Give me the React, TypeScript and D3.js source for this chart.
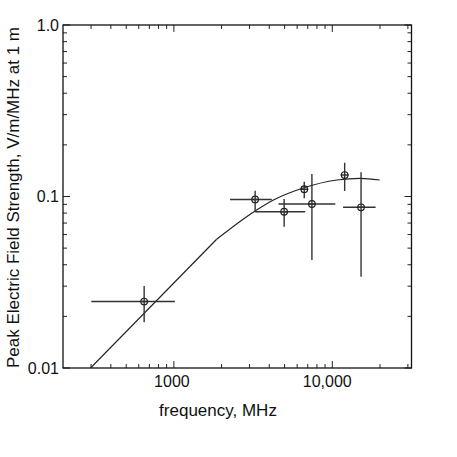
import React from "react";
import * as d3 from "d3";

// Measured points (frequency MHz, field V/m/MHz)
const freq = [649, 3258, 4966, 6653, 7436, 11970, 15190];
const field = [0.0244, 0.0961, 0.0815, 0.1102, 0.0904, 0.1334, 0.0865];
const freqLow = [301, 2261, 3258, 6653, 4571, 11970, 11690];
const freqHigh = [1015, 4150, 6745, 6653, 10450, 11970, 18770];
const fieldLow = [0.0185, 0.0815, 0.0667, 0.0976, 0.0426, 0.1077, 0.0341];
const fieldHigh = [0.0301, 0.1081, 0.0967, 0.122, 0.1352, 0.1574, 0.1383];

// Model curve: straight section then smooth rollover
const lineFreq = [298, 1862];
const lineField = [0.01, 0.0563];
const curveFreq = [1862, 3256, 4251, 6553, 10710, 15030, 19910];
const curveField = [0.0563, 0.0823, 0.0954, 0.1121, 0.1248, 0.1277, 0.1248];

const yTickValues = [0.01, 0.1, 1.0];
const yTickLabels = ["0.01", "0.1", "1.0"];
const xTickValues = [1000, 10000];
const xTickLabels = ["1000", "10,000"];

const W = 457;
const H = 457;
const L = 63, R = 411.5, T = 25, B = 368;

export default function App() {
  const x = d3.scaleLog().domain([Math.pow(10, 2.3), Math.pow(10, 4.5)]).range([L, R]);
  const y = d3.scaleLog().domain([0.01, 1]).range([B, T]);

  const xMinor: number[] = [];
  for (let e = 2; e <= 4; e++) {
    for (let m = 2; m <= 9; m++) {
      const v = m * Math.pow(10, e);
      if (v > x.domain()[0] * 1.01 && v < x.domain()[1]) xMinor.push(v);
    }
  }
  const yMinor: number[] = [];
  for (let e = -2; e <= -1; e++) {
    for (let m = 2; m <= 9; m++) yMinor.push(m * Math.pow(10, e));
  }

  const line = d3.line<[number, number]>().x(d => x(d[0])).y(d => y(d[1]));
  const smooth = d3.line<[number, number]>().x(d => x(d[0])).y(d => y(d[1])).curve(d3.curveMonotoneX);
  const linePts = lineFreq.map((f, i) => [f, lineField[i]] as [number, number]);
  const curvePts = curveFreq.map((f, i) => [f, curveField[i]] as [number, number]);

  const font = "'Liberation Sans', Arial, Helvetica, sans-serif";
  const major = 7, minor = 4;

  return (
    <svg width={W} height={H} style={{ position: "absolute", left: 0, top: 0 }}>
      <rect x={0} y={0} width={W} height={H} fill="white" />
      <defs>
        <clipPath id="plot">
          <rect x={L} y={T} width={R - L} height={B - T} />
        </clipPath>
      </defs>
      {/* ticks */}
      <g stroke="#222" strokeWidth={1}>
        {xMinor.map((v, i) => (
          <g key={"xm" + i}>
            <line x1={x(v)} x2={x(v)} y1={B} y2={B - minor} />
            <line x1={x(v)} x2={x(v)} y1={T} y2={T + minor} />
          </g>
        ))}
        {xTickValues.map((v, i) => (
          <g key={"xM" + i}>
            <line x1={x(v)} x2={x(v)} y1={B} y2={B - major} />
            <line x1={x(v)} x2={x(v)} y1={T} y2={T + major} />
          </g>
        ))}
        {yMinor.map((v, i) => (
          <g key={"ym" + i}>
            <line x1={L} x2={L + minor} y1={y(v)} y2={y(v)} />
            <line x1={R} x2={R - minor} y1={y(v)} y2={y(v)} />
          </g>
        ))}
        {yTickValues.map((v, i) => (
          <g key={"yM" + i}>
            <line x1={L} x2={L + major} y1={y(v)} y2={y(v)} />
            <line x1={R} x2={R - major} y1={y(v)} y2={y(v)} />
          </g>
        ))}
      </g>
      <rect x={L} y={T} width={R - L} height={B - T} fill="none" stroke="#111" strokeWidth={1.3} />

      <g clipPath="url(#plot)">
        <path d={line(linePts) || ""} fill="none" stroke="#222" strokeWidth={1.2} />
        <path d={smooth(curvePts) || ""} fill="none" stroke="#222" strokeWidth={1.2} />
        {freq.map((f, i) => (
          <g key={"p" + i} stroke="#333" strokeWidth={1.4} fill="none">
            <line x1={x(freqLow[i])} x2={x(freqHigh[i])} y1={y(field[i])} y2={y(field[i])} />
            <line x1={x(f)} x2={x(f)} y1={y(fieldLow[i])} y2={y(fieldHigh[i])} />
            <line x1={x(f) - 4} x2={x(f) + 4} y1={y(field[i])} y2={y(field[i])} />
            <circle cx={x(f)} cy={y(field[i])} r={3.3} stroke="#222" strokeWidth={1.2} />
          </g>
        ))}
      </g>

      <g fontFamily={font} fontSize={16} fill="#111">
        {yTickValues.map((v, i) => (
          <text key={"yl" + i} x={L - 4} y={y(v)} dy="0.35em" textAnchor="end">{yTickLabels[i]}</text>
        ))}
        {xTickValues.map((v, i) => (
          <text key={"xl" + i} x={x(v) + (i === 1 ? -5 : -2)} y={B + 19} textAnchor="middle">{xTickLabels[i]}</text>
        ))}
      </g>
      <text x={218} y={416} textAnchor="middle" fontFamily={font} fontSize={17} fill="#111">frequency, MHz</text>
      <text transform={`translate(19, ${(T + B) / 2 + 1}) rotate(-90)`} textAnchor="middle" fontFamily={font} fontSize={17} fill="#111">
        Peak Electric Field Strength,  V/m/MHz at 1 m
      </text>
    </svg>
  );
}
